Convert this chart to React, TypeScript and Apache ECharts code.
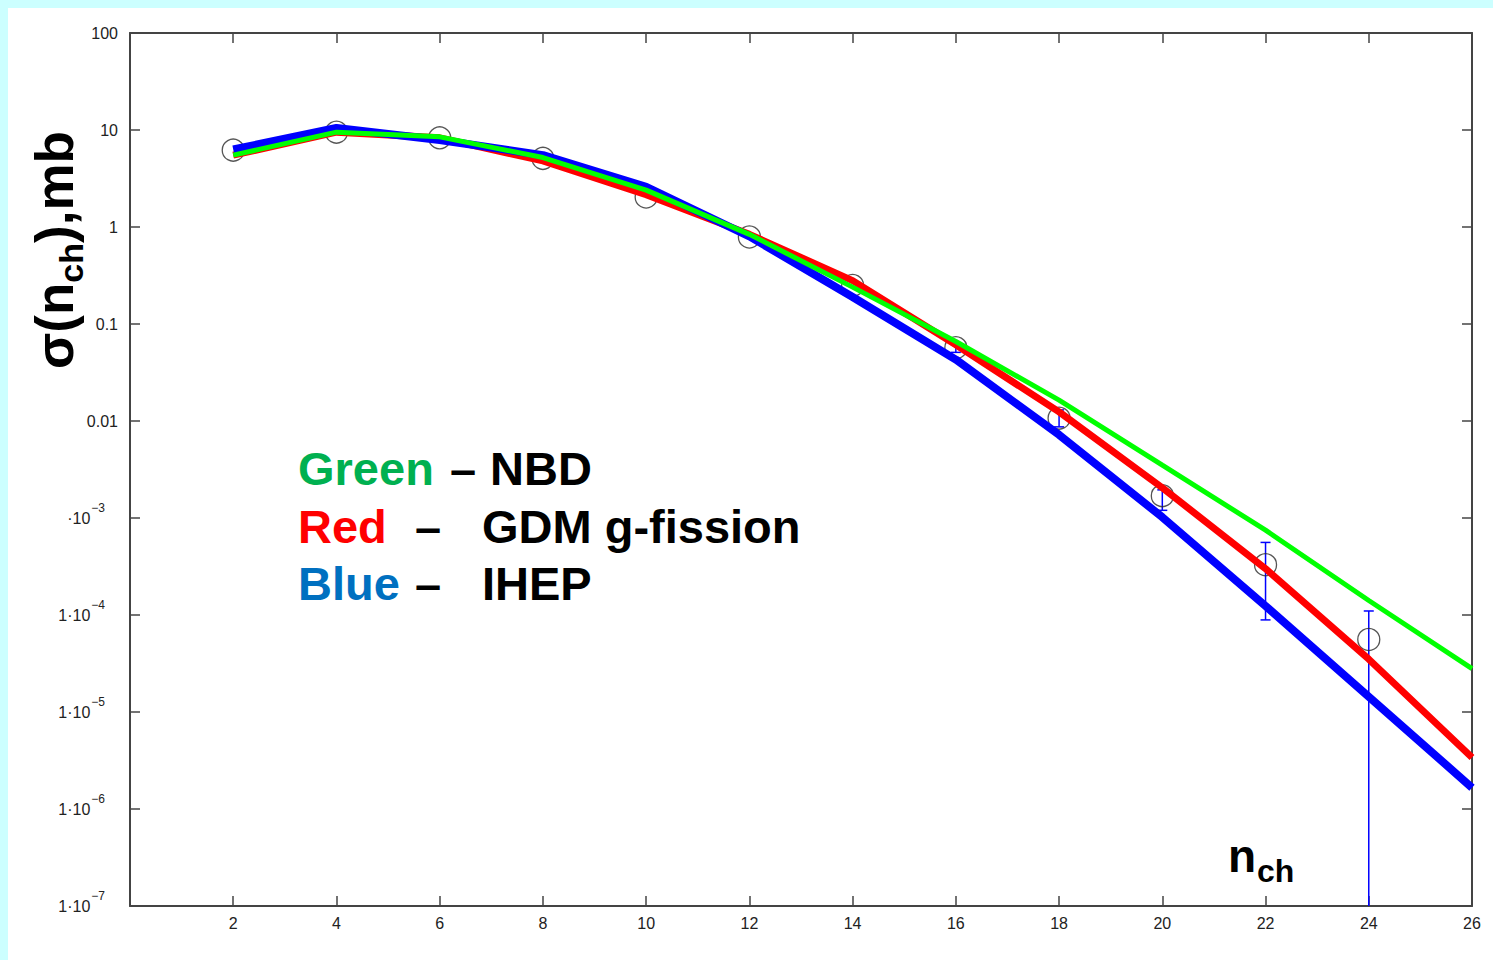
import React, { useEffect, useRef } from 'react';
import * as echarts from 'echarts';

const FONT = "'Liberation Sans', Arial, Helvetica, sans-serif";

// model curves, evaluated at even n_ch
const curveN = [2, 4, 6, 8, 10, 12, 14, 16, 18, 20, 22, 24, 26];
const nbdGreen = [5.5, 9.5, 8.5, 5.2, 2.4, 0.84, 0.24, 0.066, 0.0164, 3.5e-3, 7.5e-4, 1.41e-4, 2.8e-5];
const gdmRed = [5.5, 9.5, 8.3, 4.8, 2.15, 0.84, 0.28, 0.061, 0.0124, 2.05e-3, 3.0e-4, 3.5e-5, 3.4e-6];
const ihepBlue = [6.3, 10.5, 7.9, 5.5, 2.6, 0.8, 0.19, 0.043, 7.2e-3, 1.02e-3, 1.24e-4, 1.44e-5, 1.66e-6];

// measured points
const dataN = [2, 4, 6, 8, 10, 12, 14, 16, 18, 20, 22, 24];
const dataSigma = [6.2, 9.5, 8.3, 5.1, 2.04, 0.79, 0.25, 0.057, 0.0107, 1.7e-3, 3.3e-4, 5.6e-5];

// error bars
const errN = [16, 18, 20, 22, 24];
const errLow = [0.051, 0.0087, 1.2e-3, 8.9e-5, 1e-9];
const errHigh = [0.061, 0.013, 1.95e-3, 5.6e-4, 1.1e-4];

// y tick labels
const yTickExponents = [2, 1, 0, -1, -2, -3, -4, -5, -6, -7];
const yTickPrefix = ['100', '10', '1', '0.1', '0.01', '·10', '1·10', '1·10', '1·10', '1·10'];
const yTickSup = ['', '', '', '', '', '−3', '−4', '−5', '−6', '−7'];

const xTickLabels = ['', '2', '4', '6', '8', '10', '12', '14', '16', '18', '20', '22', '24', '26'];

const mkLine = () => ({ show: true, onZero: false, lineStyle: { color: '#444', width: 2 } });
const mkTick = () => ({ show: true, inside: true, length: 10, lineStyle: { color: '#444', width: 1.5 } });

function buildOption(): any {
  const xBase = () => ({
    type: 'value', min: 0, max: 26, interval: 2,
    axisLine: mkLine(), axisTick: mkTick(), splitLine: { show: false },
  });
  const yBase = () => ({
    type: 'log', logBase: 10, min: 1e-7, max: 100, interval: 1,
    axisLine: mkLine(), axisTick: mkTick(), splitLine: { show: false }, minorTick: { show: false },
  });
  const big = (text: string, x: number, y: number, fill: string) => ({
    type: 'text', x, y,
    style: { text, fontSize: 47, fontWeight: 'bold', fontFamily: FONT, fill, verticalAlign: 'middle' },
  });
  return {
    animation: false,
    backgroundColor: '#ffffff',
    grid: { left: 122, top: 25, width: 1342, height: 873, containLabel: false },
    xAxis: [
      {
        ...xBase(), position: 'bottom',
        axisLabel: {
          show: true, margin: 9, fontSize: 16, color: '#222', fontFamily: FONT,
          formatter: (v: number) => xTickLabels[Math.round(v / 2)] ?? '',
        },
      },
      { ...xBase(), position: 'top', axisLabel: { show: false } },
    ],
    yAxis: [
      {
        ...yBase(), position: 'left',
        axisLabel: {
          show: true, margin: 12, fontFamily: FONT,
          formatter: (v: number) => {
            const e = Math.round(Math.log10(v));
            const i = yTickExponents.indexOf(e);
            if (i < 0) return '';
            if (!yTickSup[i]) return `{p|${yTickPrefix[i]}}`;
            return `{m|${yTickPrefix[i]}}{s|${yTickSup[i]}}`;
          },
          rich: {
            p: { fontSize: 16, color: '#222', fontFamily: FONT },
            m: { fontSize: 16, color: '#222', fontFamily: FONT, lineHeight: 20 },
            s: { fontSize: 12, color: '#222', fontFamily: FONT, verticalAlign: 'top', padding: [0, 13, 20, 1] },
          },
        },
      },
      { ...yBase(), position: 'right', axisLabel: { show: false } },
    ],
    graphic: [
      {
        type: 'text', x: 46, y: 242, rotation: Math.PI / 2,
        style: {
          text: '{a|σ(n}{b|ch}{a|),mb}',
          align: 'center', verticalAlign: 'middle',
          rich: {
            a: { fontSize: 53, fontWeight: 'bold', fontFamily: FONT, fill: '#000', lineHeight: 68 },
            b: { fontSize: 34, fontWeight: 'bold', fontFamily: FONT, fill: '#000', lineHeight: 34, verticalAlign: 'bottom' },
          },
        },
      },
      { type: 'text', x: 1220, y: 848, style: { text: 'n', fontSize: 46, fontWeight: 'bold', fontFamily: FONT, fill: '#000', verticalAlign: 'middle' } },
      { type: 'text', x: 1249, y: 863, style: { text: 'ch', fontSize: 32, fontWeight: 'bold', fontFamily: FONT, fill: '#000', verticalAlign: 'middle' } },

      big('Green', 290, 460, '#00b050'),
      big('–', 442, 460, '#000'),
      big('NBD', 482, 460, '#000'),

      big('Red', 290, 518, '#ff0000'),
      big('–', 407, 518, '#000'),
      big('GDM g-fission', 474, 518, '#000'),

      big('Blue', 290, 575, '#0070c0'),
      big('–', 407, 575, '#000'),
      big('IHEP', 474, 575, '#000'),
    ],
    series: [
      {
        type: 'custom', name: 'error', clip: true, z: 1,
        encode: { x: 0, y: [1, 2] },
        data: errN.map((n, i) => [n, errLow[i], errHigh[i]]),
        renderItem: (params: any, api: any) => {
          const top = api.coord([api.value(0), api.value(2)]);
          const bot = api.coord([api.value(0), api.value(1)]);
          const w = 5;
          const style = { stroke: '#0000ff', lineWidth: 1.5 };
          return {
            type: 'group',
            children: [
              { type: 'line', shape: { x1: top[0], y1: top[1], x2: bot[0], y2: bot[1] }, style },
              { type: 'line', shape: { x1: top[0] - w, y1: top[1], x2: top[0] + w, y2: top[1] }, style },
              { type: 'line', shape: { x1: bot[0] - w, y1: bot[1], x2: bot[0] + w, y2: bot[1] }, style },
            ],
          };
        },
      },
      {
        type: 'scatter', name: 'data', z: 2,
        data: dataN.map((n, i) => [n, dataSigma[i]]),
        symbol: 'circle', symbolSize: 22,
        itemStyle: { color: 'rgba(0,0,0,0)', borderColor: '#2a2a2a', borderWidth: 1.3 },
      },
      {
        type: 'line', name: 'GDM g-fission', z: 3, showSymbol: false,
        data: curveN.map((n, i) => [n, gdmRed[i]]),
        lineStyle: { color: '#ff0000', width: 7 },
      },
      {
        type: 'line', name: 'IHEP', z: 3, showSymbol: false,
        data: curveN.map((n, i) => [n, ihepBlue[i]]),
        lineStyle: { color: '#0000ff', width: 8 },
      },
      {
        type: 'line', name: 'NBD', z: 3, showSymbol: false,
        data: curveN.map((n, i) => [n, nbdGreen[i]]),
        lineStyle: { color: '#00ff00', width: 5 },
      },
    ],
  };
}

export default function App() {
  const ref = useRef<HTMLDivElement>(null);
  useEffect(() => {
    const chart = echarts.init(ref.current!, null, { renderer: 'svg' });
    chart.setOption(buildOption());
    return () => chart.dispose();
  }, []);
  return (
    <div style={{ position: 'fixed', left: 0, top: 0, width: 1493, height: 960, background: '#ccffff' }}>
      <div style={{ position: 'absolute', left: 8, top: 8, width: 1485, height: 952, background: '#ffffff' }}>
        <div ref={ref} style={{ width: 1485, height: 952 }} />
      </div>
    </div>
  );
}
